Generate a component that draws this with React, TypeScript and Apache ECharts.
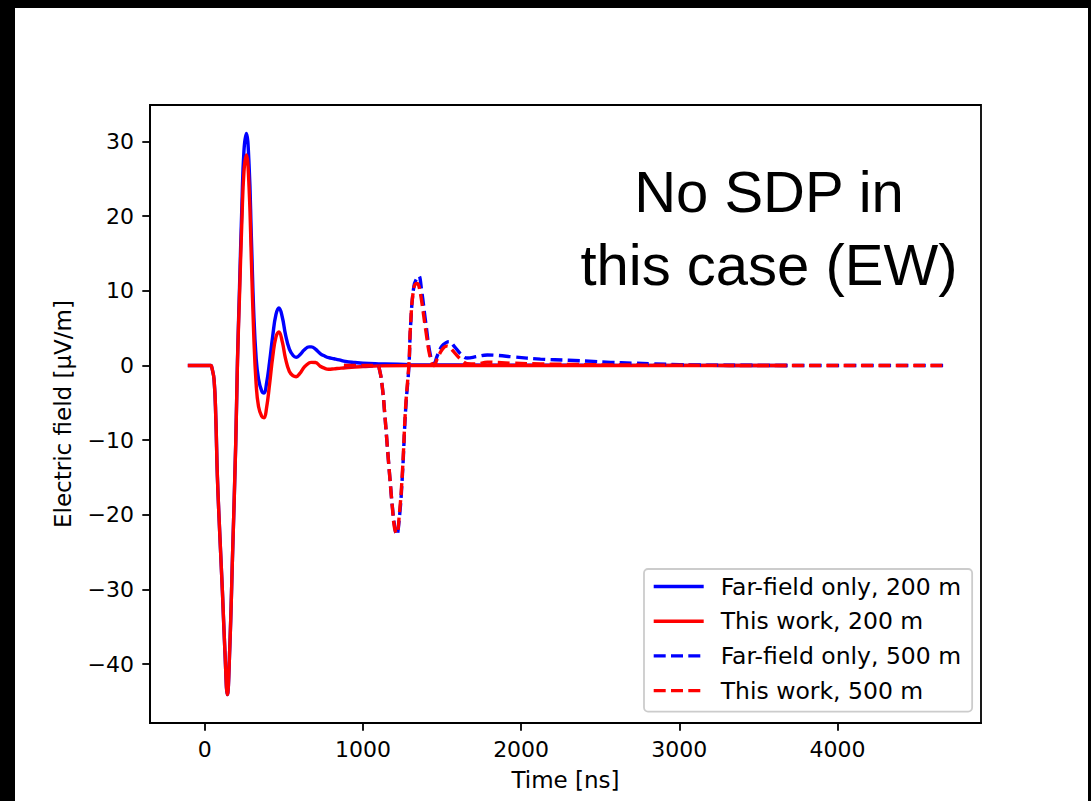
import React, { useEffect, useRef } from "react";
import * as echarts from "echarts";

// ---- Data ----
const timeNear = [-107, 0, 38, 45, 59, 70, 80, 96, 112, 128, 143, 158, 175, 196, 207, 220, 235, 248, 263, 280, 295, 310, 325, 340, 360, 375, 390, 410, 430, 450, 469, 490, 510, 535, 560, 578, 600, 630, 660, 674, 700, 730, 760, 783, 817, 850, 890, 950, 1000, 1100, 1300, 1600, 2000, 2600, 3200, 3683];

const farField200 = [0, 0, 0, -0.3, -1.9, -7, -14.9, -23, -30.4, -38.5, -44.1, -38, -26, -10.4, 0.7, 10.5, 21.5, 28.8, 31.1, 27, 17, 7, 1, -1.8, -3.4, -3.7, -2.5, 0.5, 4, 6.8, 7.7, 6.5, 4.2, 2.2, 1.3, 1.1, 1.4, 2.1, 2.5, 2.5, 2.2, 1.6, 1.25, 1.05, 0.9, 0.75, 0.55, 0.4, 0.3, 0.22, 0.12, 0.06, 0.03, 0.02, 0.01, 0];

const thisWork200 = [0, 0, 0, -0.3, -1.9, -7, -14.9, -23, -30.4, -38.5, -44.1, -38, -26, -10.4, 0.5, 9.5, 19.5, 26, 28.2, 24, 14, 4, -2.5, -5.5, -6.8, -7.0, -5.8, -2.5, 1.2, 3.8, 4.5, 3.2, 1.0, -0.8, -1.4, -1.5, -1.1, -0.2, 0.35, 0.42, 0.4, -0.1, -0.4, -0.5, -0.45, -0.38, -0.3, -0.2, -0.15, -0.05, 0, 0, 0, 0, 0, 0];

const timeFar = [880, 1000, 1091, 1105, 1122, 1138, 1154, 1170, 1186, 1200, 1213, 1230, 1249, 1270, 1291, 1301, 1322, 1343, 1353, 1370, 1396, 1428, 1449, 1470, 1500, 1529, 1544, 1580, 1620, 1659, 1720, 1786, 1850, 1950, 2122, 2300, 2457, 2565, 2700, 2836, 3000, 3133, 3500, 4000, 4668];

const farField500 = [0, 0, 0, -0.6, -2.8, -6.5, -10.8, -15, -18.9, -21.5, -22.7, -20.5, -14.9, -5.9, 0, 5.2, 10.6, 11.8, 12.0, 10.2, 5.9, 1.2, 0.3, 1.3, 2.6, 3.1, 3.2, 2.5, 1.5, 1.0, 1.2, 1.4, 1.35, 1.15, 0.85, 0.7, 0.55, 0.42, 0.32, 0.22, 0.12, 0.06, 0.02, 0, 0];

const thisWork500 = [0, 0, 0, -0.6, -2.8, -6.5, -10.8, -15, -19, -21.8, -22.5, -20, -14.5, -5.5, 0.3, 5.4, 10.4, 11.0, 10.7, 8.8, 4.9, 0.8, 0, 0.9, 2.1, 2.6, 2.5, 1.7, 0.8, 0.25, 0.2, 0.45, 0.4, 0.3, 0.2, 0.15, 0.1, 0.08, 0.06, 0.04, 0.03, 0.02, 0, 0, 0];

const seriesNames = [
  "Far-field only, 200 m",
  "This work, 200 m",
  "Far-field only, 500 m",
  "This work, 500 m",
];

const xTicks = [0, 1000, 2000, 3000, 4000];
const yTicks = [-40, -30, -20, -10, 0, 10, 20, 30];

const titleLines = ["No SDP in", "this case (EW)"];
const xAxisName = "Time [ns]";
const yAxisName = "Electric field [μV/m]";

const zip = (t: number[], v: number[]) => t.map((x, i) => [x, v[i]]);

const FONT = "DejaVu Sans";

export default function App() {
  const ref = useRef<HTMLDivElement>(null);

  useEffect(() => {
    if (!ref.current) return;
    const chart = echarts.init(ref.current, null, { renderer: "svg" });

    const lineW = 3.4;
    const dash = [12, 5.3];
    const mk = (name: string, t: number[], v: number[], color: string, dashed: boolean) => ({
      type: "line",
      name,
      data: zip(t, v),
      symbol: "none",
      showSymbol: false,
      smooth: 0.45,
      lineStyle: { color, width: lineW, type: dashed ? dash : "solid" },
      itemStyle: { color },
      clip: true,
    });

    const axisCommon = {
      splitLine: { show: false },
      axisLine: { show: true, onZero: false, lineStyle: { color: "#000", width: 1.8 } },
      nameTextStyle: { fontSize: 23, color: "#000", fontFamily: FONT },
    };

    chart.setOption({
      animation: false,
      backgroundColor: "#ffffff",
      textStyle: { fontFamily: FONT },
      grid: {
        left: 150,
        top: 105,
        right: 110,
        bottom: 78,
        show: true,
        borderColor: "#000",
        borderWidth: 1.8,
        backgroundColor: "transparent",
      },
      xAxis: {
        type: "value",
        min: -346,
        max: 4907,
        ...axisCommon,
        axisTick: { show: true, customValues: xTicks, length: 7.7, lineStyle: { color: "#000", width: 1.8 } },
        axisLabel: {
          customValues: xTicks,
          fontSize: 22,
          color: "#000",
          margin: 15,
          fontFamily: FONT,
          formatter: (v: number) => String(v),
        },
        name: xAxisName,
        nameLocation: "middle",
        nameGap: 45,
      },
      yAxis: {
        type: "value",
        min: -47.9,
        max: 34.9,
        ...axisCommon,
        axisTick: { show: true, customValues: yTicks, length: 7.7, lineStyle: { color: "#000", width: 1.8 } },
        axisLabel: {
          customValues: yTicks,
          fontSize: 22,
          color: "#000",
          margin: 16,
          fontFamily: FONT,
          formatter: (v: number) => (v < 0 ? "\u2212" + Math.abs(v) : String(v)),
        },
        name: yAxisName,
        nameLocation: "middle",
        nameRotate: 90,
        nameGap: 76,
      },
      legend: {
        show: true,
        orient: "vertical",
        left: 644,
        top: 569,
        padding: [5.5, 11, 9, 8],
        itemWidth: 50,
        itemHeight: 14,
        itemGap: 10.7,
        backgroundColor: "rgba(255,255,255,0.8)",
        borderColor: "#cccccc",
        borderWidth: 1.8,
        borderRadius: 4,
        itemStyle: { opacity: 0 },
        lineStyle: { width: lineW },
        textStyle: { fontSize: 23.5, color: "#000", fontFamily: FONT, lineHeight: 23, padding: [0, 0, 0, 12] },
        data: seriesNames,
      },
      series: [
        mk(seriesNames[0], timeNear, farField200, "#0000ff", false),
        mk(seriesNames[1], timeNear, thisWork200, "#ff0000", false),
        mk(seriesNames[2], timeFar, farField500, "#0000ff", true),
        mk(seriesNames[3], timeFar, thisWork500, "#ff0000", true),
      ],
      graphic: [
        {
          type: "text",
          x: 769,
          y: 191,
          z: 50,
          style: {
            text: titleLines[0],
            font: '58px "Liberation Sans"',
            fill: "#000",
            align: "center",
            verticalAlign: "middle",
          },
        },
        {
          type: "text",
          x: 769,
          y: 264,
          z: 50,
          style: {
            text: titleLines[1],
            font: '58px "Liberation Sans"',
            fill: "#000",
            align: "center",
            verticalAlign: "middle",
          },
        },
        { type: "rect", z: 100, shape: { x: 0, y: 0, width: 1091, height: 8 }, style: { fill: "#000" } },
        { type: "rect", z: 100, shape: { x: 0, y: 0, width: 15, height: 801 }, style: { fill: "#000" } },
        { type: "rect", z: 100, shape: { x: 1088, y: 0, width: 3, height: 801 }, style: { fill: "#000" } },
      ],
    });

    return () => chart.dispose();
  }, []);

  return (
    <div
      ref={ref}
      style={{ position: "fixed", left: 0, top: 0, width: 1091, height: 801, background: "#fff" }}
    />
  );
}
